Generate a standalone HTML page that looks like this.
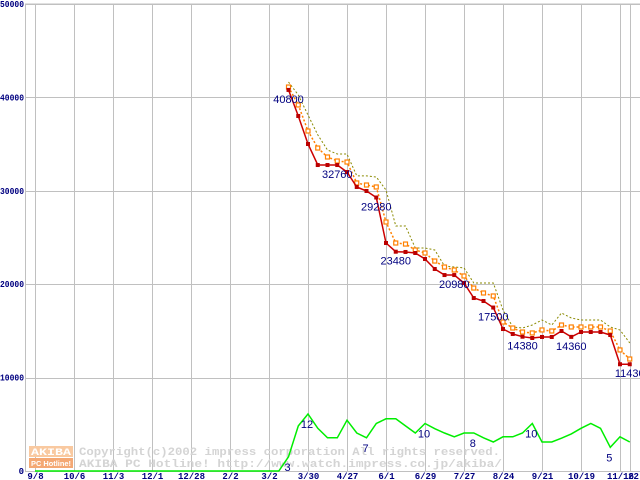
<!DOCTYPE html>
<html><head><meta charset="utf-8"><style>
html,body{margin:0;padding:0;background:#fff;width:640px;height:480px;overflow:hidden}
svg{display:block}
</style></head><body>
<svg id="chart" width="640" height="480" xmlns="http://www.w3.org/2000/svg">
<g id="grid"></g>
<g id="wm">
  <rect x="29" y="446" width="44" height="11" fill="#f9c9a0"/>
  <text x="31" y="455" font-family="Liberation Mono, monospace" font-size="10" font-weight="bold" fill="#fff" textLength="40" lengthAdjust="spacingAndGlyphs">AKIBA</text>
  <rect x="29" y="458" width="44" height="10" fill="#f4a874"/>
  <text x="31" y="466" font-family="Liberation Sans, sans-serif" font-size="7" font-weight="bold" fill="#fff" textLength="40" lengthAdjust="spacingAndGlyphs">PC Hotline!</text>
  <text x="79" y="455" font-family="Liberation Mono, monospace" font-size="11" font-weight="bold" fill="#d4d4d4" textLength="421" lengthAdjust="spacingAndGlyphs">Copyright(c)2002 impress corporation All rights reserved.</text>
  <text x="79" y="467" font-family="Liberation Mono, monospace" font-size="11" font-weight="bold" fill="#d4d4d4" textLength="423" lengthAdjust="spacingAndGlyphs">AKIBA PC Hotline!  http://www.watch.impress.co.jp/akiba/</text>
</g>
<g id="series"></g>
</svg>
<script>
const xTickLabels=["9/8","10/6","11/3","12/1","12/28","2/2","3/2","3/30","4/27","6/1","6/29","7/27","8/24","9/21","10/19","11/16"];
const yTickValues=[0,10000,20000,30000,40000,50000];
const startWeek=26;
const minPrice=[40800,38010,35010,32760,32760,32760,32010,30410,29980,29280,24410,23480,23450,23340,22700,21630,20980,20980,20130,18520,18200,17500,15200,14670,14380,14240,14350,14350,14990,14360,14880,14880,14880,14560,11430,11430];
const avgPrice=[41110,39190,36400,34580,33620,33190,33080,30840,30620,30410,26660,24410,24300,23660,23340,22480,21840,21520,20880,19590,19060,18740,15950,15310,14880,14780,15100,14990,15630,15420,15420,15420,15420,14990,12960,11990];
const maxPrice=[41650,40260,38120,35980,34370,33940,33940,31590,31590,31480,30090,26230,26230,23880,23880,23660,21950,21840,21740,20130,20130,20130,17240,15420,15310,15630,16170,15630,16920,16380,16170,16170,16170,15420,15100,13700];
const shopStartWeek=25;
const shopCount=[0,3,9.5,12,9,7,7,10.7,8,7,10,11,11,9.5,8,10,8.9,8,7.2,8,8,7,6.1,7.2,7.2,8,10,6.1,6.1,6.9,7.8,9,10,9,5,7.2,6.1];
const priceLabelWeeks=[26,31,35,37,43,47,50,55,61];
const shopLabelWeeks=[26,28,34,40,45,51,59];

const NS="http://www.w3.org/2000/svg";
const x=w=>35+w*9.75;
const y=v=>471-v*467/50000;
const yc=c=>471-c*4.75;
function mk(t,a,p){const e=document.createElementNS(NS,t);for(const k in a)e.setAttribute(k,a[k]);p.appendChild(e);return e;}
const grid=document.getElementById('grid'),ser=document.getElementById('series');
mk('line',{x1:25,y1:4,x2:640,y2:4,stroke:'#c0c0c0'},grid);
mk('line',{x1:25.5,y1:4,x2:25.5,y2:471,stroke:'#c0c0c0'},grid);
yTickValues.forEach(v=>{
  const l=mk('line',{x1:25,y1:Math.round(y(v))+.5,x2:640,y2:Math.round(y(v))+.5,stroke:'#c0c0c0'},grid);
  
  
  const s=String(v);
  const a={x:24,y:y(v)+3,'text-anchor':'end','font-family':'Liberation Mono, monospace','font-size':'9','font-weight':'bold',fill:'#000080'};
  if(s.length>1){a.textLength=s.length*4.8;a.lengthAdjust='spacingAndGlyphs';}
  const t=mk('text',a,grid);
  t.textContent=s;
  
  
});
xTickLabels.forEach((s,i)=>{
  const xx=Math.round(x(i*4))+.5;
  const l=mk('line',{x1:xx,y1:4,x2:xx,y2:471,stroke:'#c0c0c0'},grid);
  
  
  const t=mk('text',{x:xx,y:479,'text-anchor':'middle','font-family':'Liberation Mono, monospace','font-size':'9','font-weight':'bold',fill:'#000080'},grid);
  t.textContent=s;
  
  
});
{const xx=Math.round(x(61))+.5;
const l=mk('line',{x1:xx,y1:4,x2:xx,y2:471,stroke:'#c0c0c0'},grid);


const t=mk('text',{x:xx+3,y:479,'text-anchor':'middle','font-family':'Liberation Mono, monospace','font-size':'9','font-weight':'bold',fill:'#000080'},grid);
t.textContent='22';

}

function pts(arr,sw,fy){return arr.map((v,i)=>x(sw+i).toFixed(1)+','+fy(v).toFixed(1)).join(' ');}
{const p=[x(0)+','+yc(0)].concat([pts(shopCount,shopStartWeek,yc)]).join(' ');
const l=mk('polyline',{points:p,fill:'none',stroke:'#00ee00','stroke-width':1.5},ser);

}
const mx=mk('polyline',{points:pts(maxPrice,startWeek,y),fill:'none',stroke:'#8a8a00','stroke-width':1,'stroke-dasharray':'2,2'},ser);


const av=mk('polyline',{points:pts(avgPrice,startWeek,y),fill:'none',stroke:'#ff8000','stroke-width':1.5,'stroke-dasharray':'2,2'},ser);


avgPrice.forEach((v,i)=>{
  const r=mk('rect',{x:x(startWeek+i)-2,y:y(v)-2,width:4,height:4,fill:'#fff',stroke:'#ff8000','stroke-width':1.2},ser);
  
  
});
const mn=mk('polyline',{points:pts(minPrice,startWeek,y),fill:'none',stroke:'#cc0000','stroke-width':1.5},ser);


minPrice.forEach((v,i)=>{
  const r=mk('rect',{x:x(startWeek+i)-2,y:y(v)-2,width:4,height:4,fill:'#bb0000'},ser);
  
  
});
priceLabelWeeks.forEach(w=>{
  const v=minPrice[w-startWeek];
  const t=mk('text',{x:x(w),y:y(v)+13,'text-anchor':'middle','font-family':'Liberation Sans, sans-serif','font-size':'11',fill:'#000080'},ser);
  t.textContent=String(v);
  
  
});
shopLabelWeeks.forEach(w=>{
  const v=shopCount[w-shopStartWeek];
  const t=mk('text',{x:x(w)-1,y:yc(v)+14,'text-anchor':'middle','font-family':'Liberation Sans, sans-serif','font-size':'11',fill:'#000080'},ser);
  t.textContent=String(Math.round(v));
  
  
});
</script>
</body></html>
